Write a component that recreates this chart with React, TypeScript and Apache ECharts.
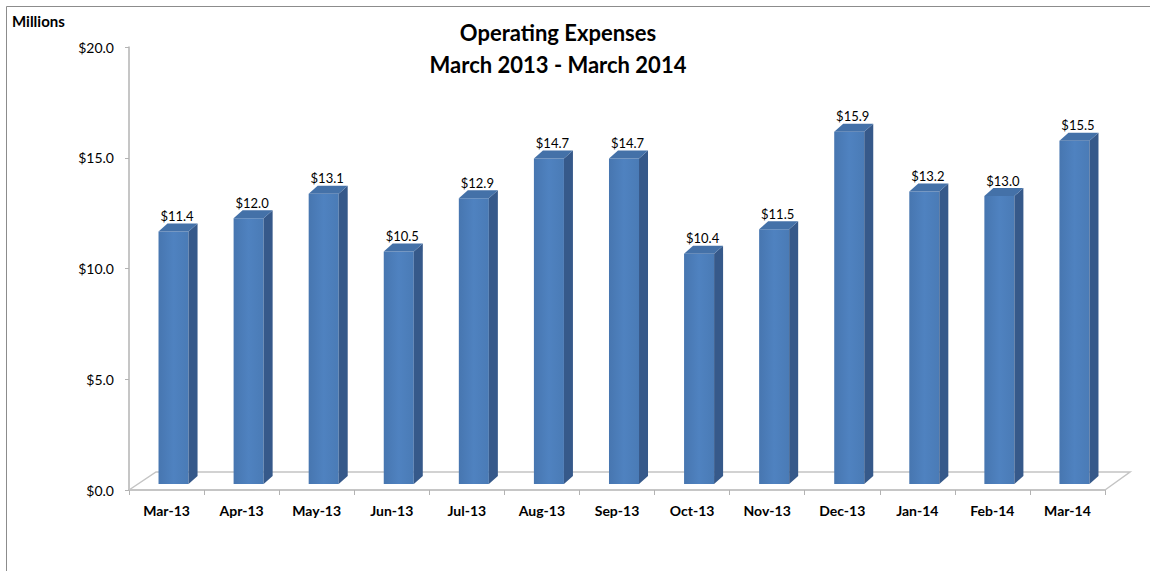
import React, { useEffect, useRef } from "react";
import * as echarts from "echarts";

const categories = ["Mar-13", "Apr-13", "May-13", "Jun-13", "Jul-13", "Aug-13", "Sep-13", "Oct-13", "Nov-13", "Dec-13", "Jan-14", "Feb-14", "Mar-14"];
const expenses = [11.4, 12.0, 13.1, 10.5, 12.9, 14.7, 14.7, 10.4, 11.5, 15.9, 13.2, 13.0, 15.5];
const titleLines = ["Operating Expenses", "March 2013 - March 2014"];
const unitLabel = "Millions";

const FONT = "Lato, 'Open Sans', sans-serif";
const DX = 9;
const DY = 8;
const LIFT = 6;
const SHIFT = 7;

export default function App() {
  const ref = useRef<HTMLDivElement>(null);
  useEffect(() => {
    document.body.style.margin = "0";
    const chart = echarts.init(ref.current!, null, { renderer: "svg" });
    const option: any = {
      animation: false,
      backgroundColor: "#ffffff",
      title: {
        text: titleLines.join("\n"),
        left: 553,
        top: 11,
        textAlign: "center",
        textStyle: { fontFamily: FONT, fontSize: 22, fontWeight: "bold", color: "#000", lineHeight: 32 },
      },
      graphic: [
        { type: "rect", left: 4, top: 4, shape: { width: 1144, height: 620 }, style: { fill: "none", stroke: "#8c8c8c", lineWidth: 1 }, silent: true },
        { type: "text", left: 12, top: 13, style: { text: unitLabel, font: `bold 15px ${FONT}`, fill: "#000" } },
      ],
      grid: { left: 129, right: 45, top: 47, bottom: 81 },
      xAxis: {
        type: "category",
        data: categories,
        boundaryGap: true,
        axisLine: { lineStyle: { color: "#b3b3b3", width: 1.5 } },
        axisTick: { show: true, length: 5, lineStyle: { color: "#b3b3b3" } },
        axisLabel: { fontFamily: FONT, fontSize: 14, fontWeight: "bold", color: "#000", margin: 13 },
      },
      yAxis: {
        type: "value",
        min: 0,
        max: 20,
        interval: 5,
        axisLine: { show: true, lineStyle: { color: "#b3b3b3", width: 1.5 } },
        axisTick: { show: true, length: 4, lineStyle: { color: "#b3b3b3" } },
        splitLine: { show: false },
        axisLabel: { fontFamily: FONT, fontSize: 14, color: "#000", margin: 15, formatter: (v: number) => `$${v.toFixed(1)}` },
      },
      series: [
        {
          type: "custom",
          name: "floor",
          data: [[0]],
          silent: true,
          z: 1,
          renderItem: (params: any, api: any) => {
            const cs = params.coordSys;
            const x0 = cs.x;
            const x1 = cs.x + cs.width;
            const yb = cs.y + cs.height;
            return {
              type: "polyline",
              shape: { points: [[x0, yb], [x0 + 27, yb - 18], [x1 + 25, yb - 18], [x1, yb]] },
              style: { stroke: "#c4c4c4", lineWidth: 1.5, fill: "none" },
            };
          },
        },
        {
          type: "custom",
          name: "Operating Expenses",
          z: 3,
          data: expenses.map((v, i) => [i, v]),
          renderItem: (params: any, api: any) => {
            const i = api.value(0);
            const v = api.value(1);
            const base = api.coord([i, 0]);
            const top = api.coord([i, v]);
            const w = api.size([1, 0])[0] * 0.4;
            const xl = base[0] - w / 2 + SHIFT;
            const xr = xl + w;
            const yb = base[1] - LIFT;
            const yt = top[1] - LIFT;
            return {
              type: "group",
              children: [
                {
                  type: "rect",
                  shape: { x: xl, y: yt, width: w, height: yb - yt },
                  style: {
                    fill: new echarts.graphic.LinearGradient(0, 0, 1, 0, [
                      { offset: 0, color: "#4776b0" },
                      { offset: 0.5, color: "#4f82c0" },
                      { offset: 1, color: "#4a7bb6" },
                    ]),
                  },
                },
                {
                  type: "polygon",
                  shape: { points: [[xr, yt], [xr + DX, yt - DY], [xr + DX, yb - DY], [xr, yb]] },
                  style: { fill: "#36598a" },
                },
                {
                  type: "polygon",
                  shape: { points: [[xl, yt], [xl + DX, yt - DY], [xr + DX, yt - DY], [xr, yt]] },
                  style: { fill: "#4471a8" },
                },
                {
                  type: "text",
                  style: {
                    x: xl + (w + DX) / 2 - 1,
                    y: yt - DY - 1,
                    text: `$${v.toFixed(1)}`,
                    textAlign: "center",
                    textVerticalAlign: "bottom",
                    font: `13px ${FONT}`,
                    fill: "#000",
                  },
                },
              ],
            };
          },
        },
      ],
    };
    chart.setOption(option);
    return () => chart.dispose();
  }, []);
  return <div ref={ref} style={{ width: 1150, height: 571 }} />;
}
